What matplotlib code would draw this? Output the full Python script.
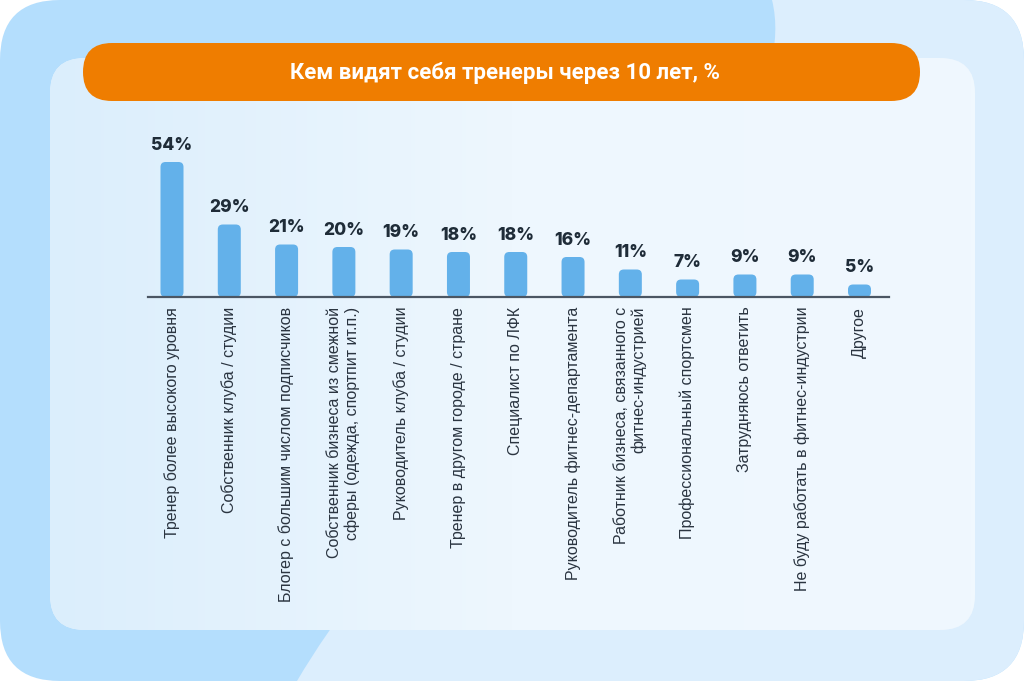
import numpy as np
import matplotlib
matplotlib.use("Agg")
import matplotlib.pyplot as plt
from matplotlib.patches import FancyBboxPatch, PathPatch
from matplotlib.path import Path
from matplotlib.colors import LinearSegmentedColormap

# data
categories = [
    "Тренер более высокого уровня",
    "Собственник клуба / студии",
    "Блогер с большим числом подписчиков",
    "Собственник бизнеса из смежной\nсферы (одежда, спортпит ит.п.)",
    "Руководитель клуба / студии",
    "Тренер в другом городе / стране",
    "Специалист по ЛФК",
    "Руководитель фитнес-департамента",
    "Работник бизнеса, связанного с\nфитнес-индустрией",
    "Профессиональный спортсмен",
    "Затрудняюсь ответить",
    "Не буду работать в фитнес-индустрии",
    "Другое",
]
values = [54, 29, 21, 20, 19, 18, 18, 16, 11, 7, 9, 9, 5]
title = "Кем видят себя тренеры через 10 лет, %"

W, H = 1024, 681
fig = plt.figure(figsize=(W / 100, H / 100), dpi=100)
fig.patch.set_facecolor("white")

# background layer in pixel coordinates
bg = fig.add_axes([0, 0, 1, 1])
bg.set_xlim(0, W)
bg.set_ylim(H, 0)
bg.axis("off")

outer = FancyBboxPatch((0, 0), W, H, boxstyle="round,pad=0,rounding_size=60",
                       fc="#b4defd", ec="none")
bg.add_patch(outer)

# lighter sweep on the right side
verts = [(772, 0), (814, 172), (447, 426), (297, 681),
         (1200, 681), (1200, 0), (772, 0)]
codes = [Path.MOVETO, Path.CURVE4, Path.CURVE4, Path.CURVE4,
         Path.LINETO, Path.LINETO, Path.CLOSEPOLY]
sweep = PathPatch(Path(verts, codes), fc="#dceefd", ec="none")
bg.add_patch(sweep)
sweep.set_clip_path(outer)

# inner panel with soft gradient
panel = FancyBboxPatch((50, 58), 925, 572, boxstyle="round,pad=0,rounding_size=35",
                       fc="#e4f2fd", ec="none")
bg.add_patch(panel)
cmap = LinearSegmentedColormap.from_list("pn", ["#dbeefc", "#eef7fe", "#f0f8fe"])
grad = np.linspace(0, 1, 256).reshape(1, -1)
im = bg.imshow(grad, cmap=cmap, extent=[50, 975, 630, 58], aspect="auto", zorder=2)
im.set_clip_path(panel)

# title pill
pill = FancyBboxPatch((83, 43), 837, 58, boxstyle="round,pad=0,rounding_size=29",
                      fc="#ef7d00", ec="none", zorder=3)
bg.add_patch(pill)
bg.text(505, 73, title, color="white", fontsize=16, fontweight="bold",
        family="Roboto", ha="center", va="center", zorder=4)

# chart axes
base_y = 297
top_y = 130
px_per_unit = 2.5
ax = fig.add_axes([148 / W, (H - base_y) / H, (889 - 148) / W, (base_y - top_y) / H])
ax.patch.set_alpha(0)
x = np.arange(len(values))
step = (859.5 - 172) / 12
ax.set_xlim(-(172 - 148) / step, 12 + (889 - 859.5) / step)
ax.set_ylim(0, (base_y - top_y) / px_per_unit)

bar_w = 23 / step
rx = 5 / step
ry = 5 / px_per_unit
for xi, v in zip(x, values):
    p = FancyBboxPatch((xi - bar_w / 2, 0), bar_w, v,
                       boxstyle=f"round,pad=0,rounding_size={rx}",
                       mutation_aspect=ry / rx, fc="#63b1ea", ec="none")
    ax.add_patch(p)
    ax.annotate(f"{v}%", (xi, v), xytext=(0, 6), textcoords="offset points",
                ha="center", va="bottom", fontsize=12.5, fontweight="heavy",
                family="Inter", color="#1f2c38")

for s in ["top", "right", "left"]:
    ax.spines[s].set_visible(False)
ax.spines["bottom"].set_color("#4b5663")
ax.spines["bottom"].set_linewidth(1.6)
ax.spines["bottom"].set_zorder(5)
ax.set_yticks([])
ax.set_xticks(x)
ax.set_xticklabels(categories, rotation=90, va="top", ha="center",
                   multialignment="right", fontsize=11.5, family="Liberation Sans",
                   color="#2a3440")
ax.tick_params(axis="x", length=0, pad=7)

fig.savefig("out.png", dpi=100)
